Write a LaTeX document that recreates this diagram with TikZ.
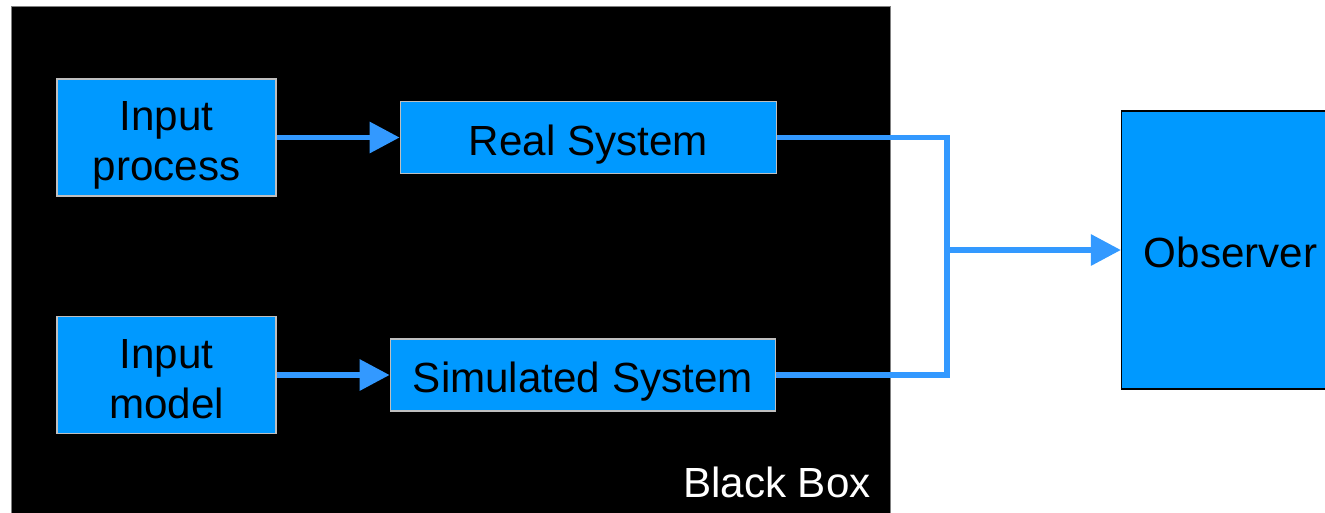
\documentclass[tikz,border=0pt]{standalone}
\usepackage{fontspec}
\setmainfont{Liberation Sans}
\usetikzlibrary{positioning, arrows.meta}
\definecolor{boxblue}{RGB}{0,153,255}
\definecolor{wireblue}{RGB}{51,153,255}

\begin{document}
\begin{tikzpicture}[
  x=0.02cm, y=-0.02cm,
  >={Triangle[length=0.6cm, width=0.6cm]},
  bluebox/.style={draw=white!75!black, fill=boxblue, line width=0.8pt, inner sep=0pt, align=center, font=\fontsize{24}{28.5}\selectfont},
  inbox/.style={bluebox, minimum width=4.38cm, minimum height=2.34cm, text height=49.3pt, text depth=0pt},
  sysbox/.style={bluebox, minimum height=1.44cm, text height=20.3pt, text depth=0pt},
  wire/.style={wireblue, line width=3.4pt},
  flow/.style={->, wireblue, line width=3.4pt}
]
\useasboundingbox (0,0) rectangle (1325,512);
% the black box
\fill[black, draw=gray] (11,6) rectangle (890,540);
\node[anchor=base east, inner sep=0pt, text=white, font=\fontsize{24}{28.5}\selectfont] (BBLabel) at (871,497) {Black Box};

\node[inbox] (InProc) at (166.5,137.5) {Input\\process};
\node[sysbox, minimum width=7.52cm] (RealSys) [right=2.46cm of InProc] {Real System};

\node[inbox] (InModel) at (166.5,375) {Input\\model};
\node[sysbox, minimum width=7.7cm] (SimSys) [right=2.26cm of InModel] {Simulated System};

\coordinate (Merge) at (947,250);
\node[bluebox, draw=black, minimum width=4.36cm, minimum height=5.56cm, text height=20pt, text depth=0pt] (Obs) [right=3.48cm of Merge] {Observer};

\draw[flow] (InProc) -- (RealSys);
\draw[flow] (InModel) -- (SimSys);
\draw[wire] (RealSys.east) -| (Merge) |- (SimSys.east);
\draw[flow] (Merge) -- (Obs);
\end{tikzpicture}
\end{document}
